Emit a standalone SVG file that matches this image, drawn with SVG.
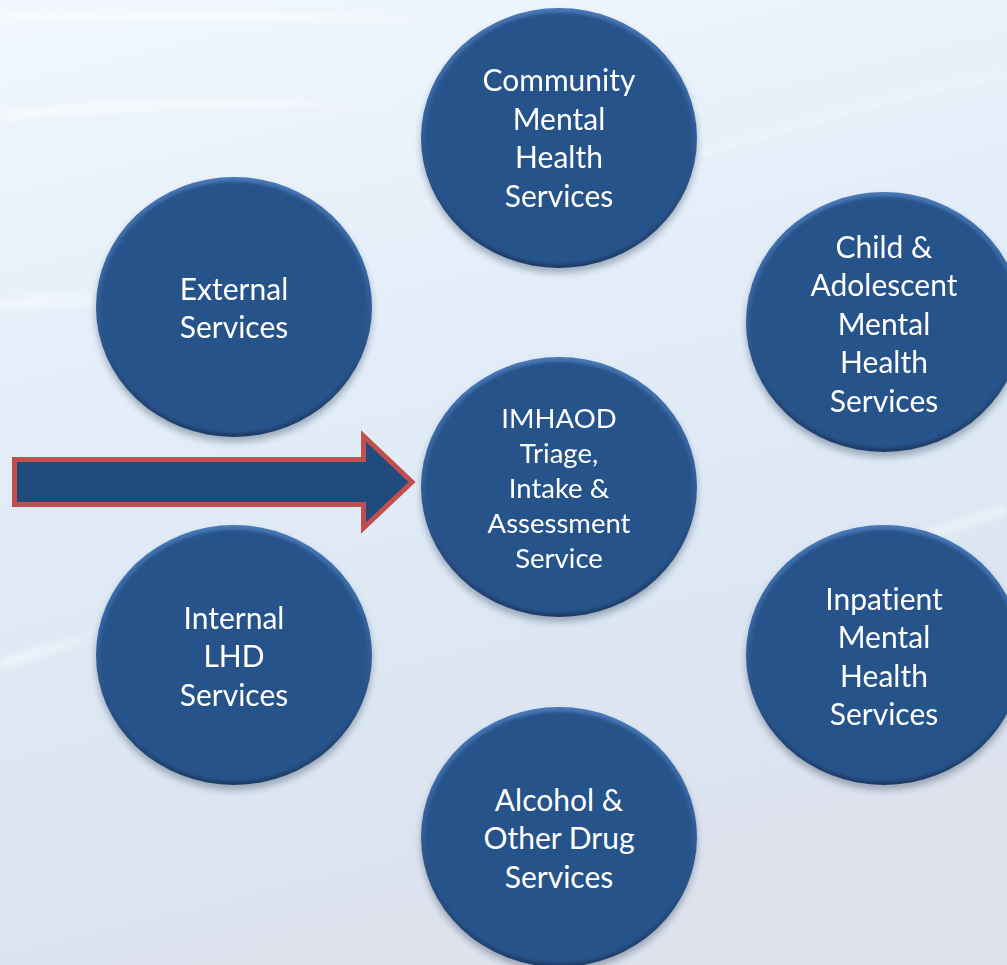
<svg xmlns="http://www.w3.org/2000/svg" width="1007" height="965" viewBox="0 0 1007 965">
  <defs>
    <linearGradient id="bg" x1="0" y1="0" x2="0.25" y2="1">
      <stop offset="0" stop-color="#f1f7fd"/>
      <stop offset="0.45" stop-color="#e2edf8"/>
      <stop offset="0.75" stop-color="#dce7f3"/>
      <stop offset="1" stop-color="#dde2ed"/>
    </linearGradient>
    <linearGradient id="rim" x1="0" y1="0" x2="0" y2="1">
      <stop offset="0" stop-color="#4878b6"/>
      <stop offset="0.45" stop-color="#32609c"/>
      <stop offset="1" stop-color="#1d3c66"/>
    </linearGradient>
    <filter id="shadow" x="-20%" y="-20%" width="140%" height="140%">
      <feGaussianBlur stdDeviation="3.5"/>
    </filter>
    <filter id="soft" x="-10%" y="-10%" width="120%" height="120%">
      <feGaussianBlur stdDeviation="1.8"/>
    </filter>
    <filter id="haze" x="-20%" y="-200%" width="140%" height="500%">
      <feGaussianBlur stdDeviation="4"/>
    </filter>
    <!-- one bevelled disc, reused for every node -->
    <g id="disc">
      <ellipse cx="0" cy="5" rx="138" ry="130" fill="#1a2f4a" opacity="0.35" filter="url(#shadow)"/>
      <ellipse cx="0" cy="0" rx="138" ry="130" fill="url(#rim)"/>
      <ellipse cx="0" cy="0.5" rx="134" ry="126" fill="#27528a" filter="url(#soft)"/>
    </g>
  </defs>
  <style>
    .lbl { font-family: Lato, "Open Sans", "Liberation Sans", sans-serif; fill: #ffffff; text-anchor: middle; font-variant-ligatures: none; font-feature-settings: "liga" 0, "clig" 0; }
    .big { font-size: 30px; }
    .mid { font-size: 27.5px; }
    .arrow { fill: #214a7d; stroke: #c0504d; stroke-width: 5; stroke-linejoin: miter; }
  </style>

  <!-- backdrop -->
  <rect x="0" y="0" width="1007" height="965" fill="url(#bg)"/>
  <g fill="#ffffff" filter="url(#haze)">
    <path d="M0,14 C200,8 380,14 420,22 C300,20 150,18 0,20 Z" opacity="0.7"/>
    <path d="M0,112 C120,100 260,96 420,108 C260,104 120,108 0,120 Z" opacity="0.7"/>
    <path d="M0,300 C40,296 80,296 110,300 C80,304 40,306 0,308 Z" opacity="0.6"/>
    <path d="M0,660 C30,650 70,640 100,632 C70,646 30,660 0,670 Z" opacity="0.6"/>
    <path d="M840,560 C900,540 960,520 1007,505 L1007,512 C960,528 900,548 840,566 Z" opacity="0.6"/>
    <path d="M700,150 C800,120 900,90 1007,70 L1007,76 C900,96 800,126 700,156 Z" opacity="0.35"/>
  </g>

  <!-- entry arrow -->
  <g id="connectors">
    <path class="arrow" d="M14.5,459.5 H363.5 V436 L412,482 L363.5,528 V504.5 H14.5 Z"/>
  </g>

  <g id="community">
    <use href="#disc" x="559" y="138"/>
    <text class="lbl big"><tspan x="559" y="91">Community</tspan><tspan x="559" y="129.5">Mental</tspan><tspan x="559" y="168">Health</tspan><tspan x="559" y="206.5">Services</tspan></text>
  </g>

  <g id="external">
    <use href="#disc" x="234" y="307"/>
    <text class="lbl big"><tspan x="234" y="299.5">External</tspan><tspan x="234" y="338">Services</tspan></text>
  </g>

  <g id="child">
    <use href="#disc" x="884" y="322"/>
    <text class="lbl big"><tspan x="884" y="257.5">Child &amp;</tspan><tspan x="884" y="296">Adolescent</tspan><tspan x="884" y="334.5">Mental</tspan><tspan x="884" y="373">Health</tspan><tspan x="884" y="411.5">Services</tspan></text>
  </g>

  <g id="triage">
    <use href="#disc" x="559" y="487"/>
    <text class="lbl mid"><tspan x="559" y="428">IMHAOD</tspan><tspan x="559" y="463">Triage,</tspan><tspan x="559" y="498">Intake &amp;</tspan><tspan x="559" y="533">Assessment</tspan><tspan x="559" y="568">Service</tspan></text>
  </g>

  <g id="internal">
    <use href="#disc" x="234" y="655"/>
    <text class="lbl big"><tspan x="234" y="628.5">Internal</tspan><tspan x="234" y="667">LHD</tspan><tspan x="234" y="705.5">Services</tspan></text>
  </g>

  <g id="inpatient">
    <use href="#disc" x="884" y="655"/>
    <text class="lbl big"><tspan x="884" y="609.5">Inpatient</tspan><tspan x="884" y="648">Mental</tspan><tspan x="884" y="686.5">Health</tspan><tspan x="884" y="725">Services</tspan></text>
  </g>

  <g id="aod">
    <use href="#disc" x="559" y="837"/>
    <text class="lbl big"><tspan x="559" y="810.5">Alcohol &amp;</tspan><tspan x="559" y="849">Other Drug</tspan><tspan x="559" y="887.5">Services</tspan></text>
  </g>
</svg>
